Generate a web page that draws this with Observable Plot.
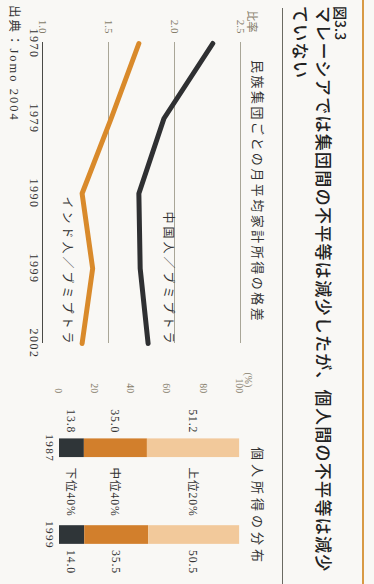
<!DOCTYPE html>
<html><head><meta charset="utf-8">
<script src="https://cdn.jsdelivr.net/npm/d3@7"></script>
<script src="https://cdn.jsdelivr.net/npm/@observablehq/plot@0.6"></script>
<style>
html,body{margin:0;padding:0;width:374px;height:584px;overflow:hidden;background:#f8f7f4;}
#page{position:absolute;left:0;top:0;width:584px;height:374px;transform-origin:0 0;transform:translate(374px,0) rotate(90deg);overflow:hidden;background:#f9f8f5;font-family:"Noto Sans CJK JP",sans-serif;color:#222;}
.abs{position:absolute;white-space:nowrap;}
.rule{position:absolute;}
#lineChart{position:absolute;left:0;top:115px;}
#barChart{position:absolute;left:360px;top:119px;}
#lineChart g[aria-label="text"] text{letter-spacing:3px;}
#barChart g[aria-label="text"] text{letter-spacing:1px;}
#lineChart g[aria-label="x-axis tick label"] text,#barChart g[aria-label="x-axis tick label"] text{letter-spacing:1.5px;}
</style></head>
<body>
<div id="page">
  <div class="rule" style="left:0;top:10px;width:584px;height:2px;background:#d89a45;"></div>
  <div class="abs" style="left:6px;top:26px;font-size:14px;line-height:14px;font-weight:500;">図3.3</div>
  <div class="abs" style="left:6px;top:41px;font-size:17px;line-height:17px;font-weight:500;letter-spacing:1.3px;">マレーシアでは集団間の不平等は減少したが、個人間の不平等は減少</div>
  <div class="abs" style="left:6px;top:64px;font-size:17px;line-height:17px;font-weight:500;letter-spacing:1.3px;">ていない</div>
  <div class="rule" style="left:8px;top:91px;width:576px;height:1px;background:#6b6a62;"></div>
  <div class="abs" style="left:60px;top:109px;font-size:13px;line-height:14px;letter-spacing:2.5px;color:#333;">民族集団ごとの月平均家計所得の格差</div>
  <div class="abs" style="left:447px;top:109px;font-size:13px;line-height:14px;letter-spacing:4px;color:#333;">個人所得の分布</div>
  <div id="lineChart"></div>
  <div id="barChart"></div>
  <div class="abs" style="left:5px;top:353px;font-size:12.5px;line-height:14px;letter-spacing:2px;color:#333;font-family:'Liberation Serif','Noto Sans CJK JP',serif;">出典：Jomo 2004</div>
</div>
<script>
// ---- data: line chart (ratio of monthly household income by ethnic group) ----
const years = ["1970", "1979", "1990", "1999", "2002"];
const chineseRatio = [2.29, 1.92, 1.73, 1.74, 1.80];
const indianRatio = [1.73, 1.52, 1.30, 1.38, 1.30];
const seriesNames = ["中国人／ブミプトラ", "インド人／ブミプトラ"];
const ratioTicks = [1.0, 1.5, 2.0, 2.5];

// ---- data: stacked bars (distribution of personal income) ----
const barYears = ["1987", "1999"];
const incomeGroups = ["下位40%", "中位40%", "上位20%"];
const share1987 = [13.8, 35.0, 51.2];
const share1999 = [14.0, 35.5, 50.5];
const shareTicks = [0, 20, 40, 60, 80, 100];

const serifFont = "'Liberation Serif','Noto Sans CJK JP',serif";

const lineRows = years.flatMap((yr, i) => [
  {year: yr, value: chineseRatio[i], series: seriesNames[0]},
  {year: yr, value: indianRatio[i], series: seriesNames[1]}
]);
const lastChinese = [{year: years[years.length - 1], value: chineseRatio[chineseRatio.length - 1], series: seriesNames[0]}];
const lastIndian = [{year: years[years.length - 1], value: indianRatio[indianRatio.length - 1], series: seriesNames[1]}];

const linePlot = Plot.plot({
  width: 360, height: 236,
  marginLeft: 42, marginRight: 17, marginTop: 18, marginBottom: 20,
  style: {fontFamily: serifFont, fontSize: "11px", background: "transparent", color: "#333", overflow: "visible"},
  x: {type: "point", domain: years, padding: 0},
  y: {domain: [1, 2.5]},
  color: {domain: seriesNames, range: ["#2f3032", "#d98a2b"]},
  marks: [
    Plot.ruleY(ratioTicks.filter(t => t > 1), {stroke: "#a9a697", strokeWidth: 1}),
    Plot.ruleY(ratioTicks.filter(t => t === 1), {stroke: "#4a4a46", strokeWidth: 1}),
    Plot.axisY({ticks: ratioTicks, tickSize: 0, tickPadding: 9, tickFormat: d3.format(".1f"),
      label: "比率", labelAnchor: "top", labelOffset: 32, labelArrow: "none", color: "#857c6a", fontSize: 11}),
    Plot.axisX({tickSize: 0, tickPadding: 4, label: null, fontSize: 12, color: "#333"}),
    Plot.line(lineRows, {x: "year", y: "value", z: "series", stroke: "series", strokeWidth: 5, strokeLinejoin: "round", strokeLinecap: "round"}),
    Plot.text(lastChinese, {x: "year", y: "value", text: "series", textAnchor: "end", dy: -20, dx: 3, fontSize: 12, fill: "#333", fontFamily: "'Noto Sans CJK JP',sans-serif"}),
    Plot.text(lastIndian, {x: "year", y: "value", text: "series", textAnchor: "end", dy: 15, dx: 3, fontSize: 12, fill: "#333", fontFamily: "'Noto Sans CJK JP',sans-serif"})
  ]
});
document.getElementById("lineChart").appendChild(linePlot);

const barRows = barYears.flatMap((yr, j) => incomeGroups.map((g, k) => ({
  year: yr, group: g, share: [share1987, share1999][j][k]
})));
const rows1987 = barRows.filter(d => d.year === barYears[0]);
const rows1999 = barRows.filter(d => d.year === barYears[1]);

const barPlot = Plot.plot({
  width: 240, height: 230,
  marginLeft: 47, marginRight: 7, marginTop: 17, marginBottom: 20,
  style: {fontFamily: serifFont, fontSize: "11px", background: "transparent", color: "#333", overflow: "visible"},
  x: {type: "band", domain: barYears, paddingInner: 0.787, paddingOuter: 0.383},
  y: {domain: [0, 100]},
  color: {domain: incomeGroups, range: ["#2f3538", "#d27f2c", "#f2c99b"]},
  marks: [
    Plot.ruleY(shareTicks.filter(t => t === 100), {x2: () => barYears[0], stroke: "#9a958a"}),
    Plot.ruleY(shareTicks.filter(t => t === 0), {x2: () => barYears[0], stroke: "#3a3a36"}),
    Plot.axisY({ticks: shareTicks, tickSize: 0, tickPadding: 12, label: "(%)", labelAnchor: "top", labelOffset: 34, labelArrow: "none", color: "#857c6a", fontSize: 10.5}),
    Plot.axisX({tickSize: 0, tickPadding: 5, label: null, fontSize: 12, color: "#333"}),
    Plot.barY(barRows, Plot.stackY({x: "year", y: "share", z: "group", fill: "group"})),
    Plot.text(rows1987, Plot.stackY({x: "year", y: "share", z: "group", text: d => d.share.toFixed(1), textAnchor: "end", dx: -16, fontSize: 12.5, fill: "#333"})),
    Plot.text(rows1999, Plot.stackY({x: "year", y: "share", z: "group", text: d => d.share.toFixed(1), textAnchor: "start", dx: 16, fontSize: 12.5, fill: "#333"})),
    Plot.text(rows1987, Plot.stackY({x: "year", y: "share", z: "group", text: "group", dx: 47, fontSize: 12.5, fill: "#333", fontFamily: serifFont}))
  ]
});
document.getElementById("barChart").appendChild(barPlot);
</script>
</body></html>
